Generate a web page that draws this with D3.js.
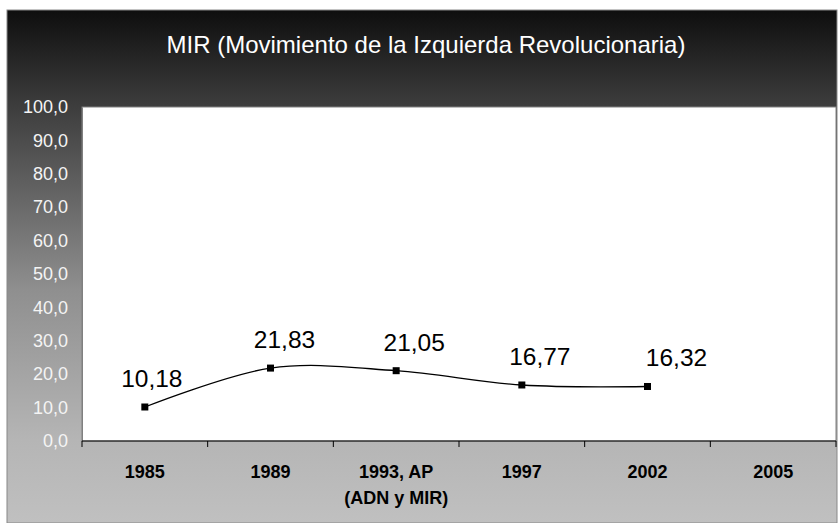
<!DOCTYPE html>
<html>
<head>
<meta charset="utf-8">
<script src="https://cdn.jsdelivr.net/npm/d3@7"></script>
<style>
  body { margin: 0; background: #fff; }
  svg { display: block; font-family: "Liberation Sans", Arial, sans-serif; }
</style>
</head>
<body>
<svg id="chart" width="838" height="523"></svg>
<script>
var title = "MIR (Movimiento de la Izquierda Revolucionaria)";
var categories = ["1985", "1989", "1993, AP\n(ADN y MIR)", "1997", "2002", "2005"];
var values = [10.18, 21.83, 21.05, 16.77, 16.32, null];
var yTicks = [0, 10, 20, 30, 40, 50, 60, 70, 80, 90, 100];

// label nudges (layout only)
var labelDx = [7, 14, 18, 18, 29, 0];

var svg = d3.select("#chart");
var W = 838, H = 523;
var m = { left: 82, right: 836, top: 107, bottom: 441 };

var defs = svg.append("defs");
var grad = defs.append("linearGradient").attr("id", "bg").attr("x1", 0).attr("y1", 0).attr("x2", 0).attr("y2", 1);
grad.append("stop").attr("offset", "0%").attr("stop-color", "#0e0e0e");
grad.append("stop").attr("offset", "17.5%").attr("stop-color", "#3a3a3a");
grad.append("stop").attr("offset", "54.6%").attr("stop-color", "#8f8f8f");
grad.append("stop").attr("offset", "83.8%").attr("stop-color", "#b5b5b5");
grad.append("stop").attr("offset", "100%").attr("stop-color", "#c0c0c0");

svg.append("rect")
    .attr("x", 7).attr("y", 10).attr("width", 830).attr("height", H - 10)
    .attr("fill", "url(#bg)")
    .attr("stroke", "#888").attr("stroke-width", 1);

svg.append("text")
    .attr("x", 426).attr("y", 53)
    .attr("text-anchor", "middle")
    .attr("font-size", 24)
    .attr("fill", "#fff")
    .text(title);

var x = d3.scaleBand().domain(categories).range([m.left, m.right]);
var y = d3.scaleLinear().domain([0, 100]).range([m.bottom, m.top]);

svg.append("rect")
    .attr("x", m.left).attr("y", m.top)
    .attr("width", m.right - m.left).attr("height", m.bottom - m.top)
    .attr("fill", "#fff")
    .attr("stroke", "#808080").attr("stroke-width", 1);

// y axis labels
var yAxis = svg.append("g")
    .attr("transform", "translate(" + m.left + ",0)")
    .call(d3.axisLeft(y).tickValues(yTicks).tickSize(0).tickPadding(14)
        .tickFormat(function(d) { return d3.format(".1f")(d).replace(".", ","); }));
yAxis.select(".domain").attr("stroke", "#808080");
yAxis.selectAll("text")
    .attr("font-size", 18)
    .attr("font-family", "Liberation Sans, Arial, sans-serif")
    .attr("fill", "#f4f4f4");

// x axis
var xAxis = svg.append("g").attr("transform", "translate(0," + m.bottom + ")");
xAxis.append("line")
    .attr("x1", m.left).attr("x2", m.right)
    .attr("stroke", "#000");
var edges = categories.map(function(c) { return x(c); }).concat([m.right]);
xAxis.selectAll(".tk").data(edges).enter().append("line")
    .attr("x1", function(d) { return d; }).attr("x2", function(d) { return d; })
    .attr("y1", 0).attr("y2", 6)
    .attr("stroke", "#000");
var xl = xAxis.selectAll(".lbl").data(categories).enter().append("text")
    .attr("x", function(d) { return x(d) + x.bandwidth() / 2; })
    .attr("y", 37)
    .attr("text-anchor", "middle")
    .attr("font-size", 18)
    .attr("font-weight", "bold")
    .attr("fill", "#000");
xl.each(function(d) {
    var lines = d.split("\n");
    var t = d3.select(this);
    lines.forEach(function(s, i) {
        t.append("tspan")
            .attr("x", x(d) + x.bandwidth() / 2)
            .attr("dy", i === 0 ? 0 : 26)
            .text(s);
    });
});

// series
var pts = categories.map(function(c, i) { return { c: c, v: values[i], i: i }; })
    .filter(function(d) { return d.v != null; });

var line = d3.line()
    .x(function(d) { return x(d.c) + x.bandwidth() / 2; })
    .y(function(d) { return y(d.v); })
    .curve(d3.curveCardinal.tension(0));

svg.append("path")
    .datum(pts)
    .attr("d", line)
    .attr("fill", "none")
    .attr("stroke", "#000")
    .attr("stroke-width", 1.3);

svg.selectAll(".mk").data(pts).enter().append("rect")
    .attr("x", function(d) { return x(d.c) + x.bandwidth() / 2 - 3.5; })
    .attr("y", function(d) { return y(d.v) - 3.5; })
    .attr("width", 7).attr("height", 7)
    .attr("fill", "#000");

svg.selectAll(".dl").data(pts).enter().append("text")
    .attr("x", function(d) { return x(d.c) + x.bandwidth() / 2 + labelDx[d.i]; })
    .attr("y", function(d) { return y(d.v) - 20; })
    .attr("text-anchor", "middle")
    .attr("font-size", 24.5)
    .attr("fill", "#000")
    .text(function(d) { return d3.format(".2f")(d.v).replace(".", ","); });
</script>
</body>
</html>
